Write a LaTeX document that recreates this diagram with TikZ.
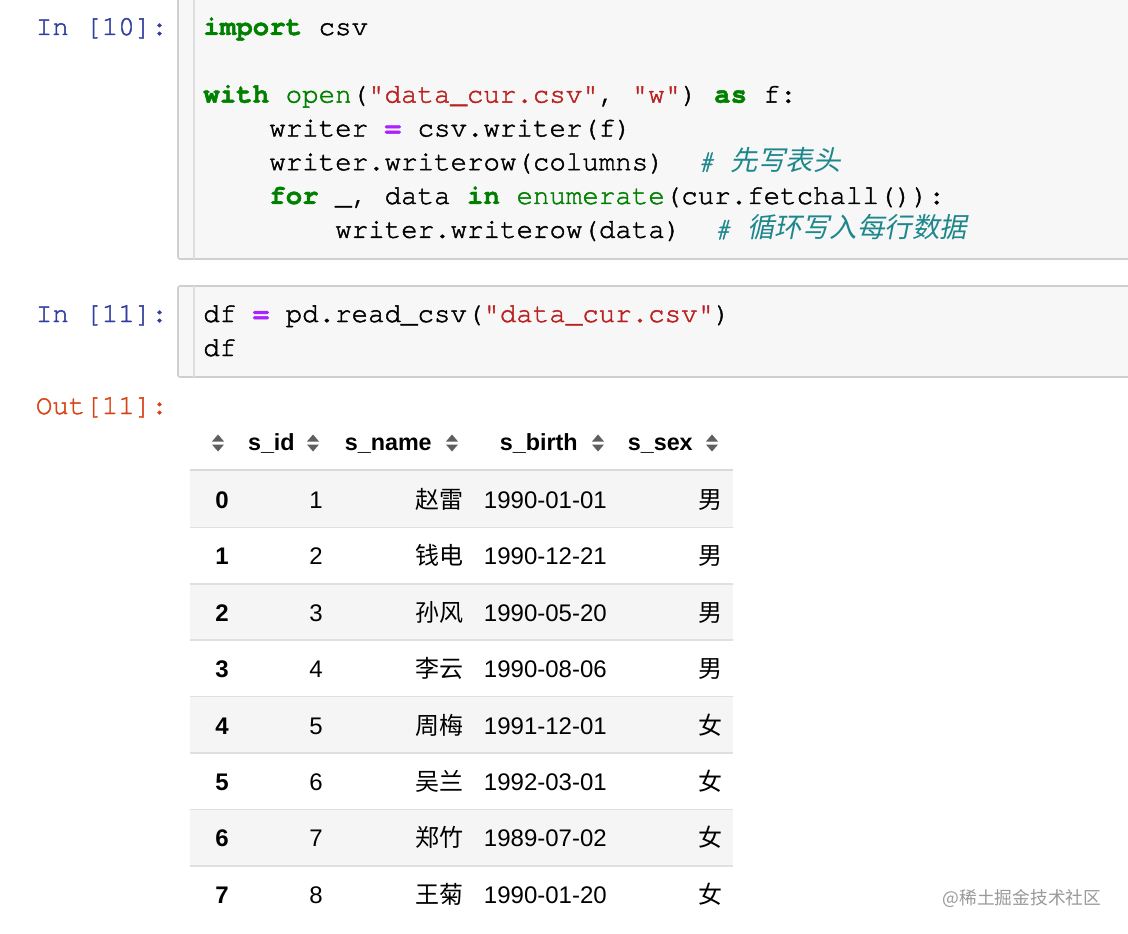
\documentclass[tikz,border=0pt]{standalone}
\usepackage{fontspec}
\usepackage{xcolor}
\setmainfont{Liberation Sans}
\newfontfamily\cjk{Noto Sans CJK SC}
\newfontfamily\cjkslant{Noto Sans CJK SC}[FakeSlant=0.2]
\newfontfamily\codefont{TeX Gyre Cursor}[FakeBold=1.6]
\definecolor{kwgreen}{RGB}{0,128,0}
\definecolor{strred}{RGB}{186,33,33}
\definecolor{oppurple}{RGB}{170,34,255}
\definecolor{cmteal}{RGB}{30,135,140}
\definecolor{inblue}{RGB}{48,63,159}
\definecolor{outred}{RGB}{216,67,21}
\definecolor{cellfill}{RGB}{247,247,247}
\definecolor{cellborder}{RGB}{207,207,207}
\definecolor{rowgray}{RGB}{245,245,245}
\definecolor{iconcol}{RGB}{95,95,95}
\newcommand\pykw[1]{\textcolor{kwgreen}{\bfseries #1}}
\newcommand\pybi[1]{\textcolor{kwgreen}{#1}}
\newcommand\pystr[1]{\textcolor{strred}{#1}}
\newcommand\pyop[1]{\textcolor{oppurple}{\bfseries #1}}
\newcommand\pycm[1]{\textcolor{cmteal}{\itshape #1}}
\tikzset{
    codeline/.style={anchor=base west, inner sep=0, font=\codefont\fontsize{20.6}{24}\selectfont},
    prompt/.style={anchor=base east, inner sep=0, font=\codefont\fontsize{20.6}{24}\selectfont},
    cellbox/.style={draw=cellborder, fill=cellfill, line width=1.2pt, rounded corners=1.5pt},
    gutter/.style={draw=black!13, line width=1pt},
    colhead/.style={anchor=base east, inner sep=0, font=\bfseries\fontsize{17.5}{21}\selectfont},
    cellidx/.style={anchor=base, inner sep=0, font=\bfseries\fontsize{18}{22}\selectfont},
    cellval/.style={anchor=base east, inner sep=0, font=\fontsize{18}{22}\selectfont},
    rowline/.style={draw=black!12, line width=1.3pt},
    sorticon/.pic={
        \fill[iconcol] (-6,-1.5) -- (6,-1.5) -- (0,-8.5) -- cycle;
        \fill[iconcol] (-6,1.5) -- (6,1.5) -- (0,8.5) -- cycle;
    }
}
\begin{document}
\begin{tikzpicture}[x=0.75pt, y=-0.75pt]
    \useasboundingbox (0,0) rectangle (1128,934);
    \clip (0,0) rectangle (1128,934);
    \fill[white] (0,0) rectangle (1128,934);

    % First input cell
    \draw[cellbox] (178,-10) rectangle (1140,259);
    \draw[gutter] (194,-10) -- (194,259);
    \node[prompt, text=inblue] (in10) at (168,35) {In [10]:};
    \node[codeline] (c1) at (203,35) {\pykw{import} csv};
    \node[codeline] (c3) at (203,102.6) {\pykw{with} \pybi{open}(\pystr{"data\_cur.csv"}, \pystr{"w"}) \pykw{as} f:};
    \node[codeline] (c4) at (269,136.4) {writer \pyop{=} csv.writer(f)};
    \node[codeline] (c5) at (269,170.2) {writer.writerow(columns)\ \ \pycm{\#\ {\cjkslant 先写表头}}};
    \node[codeline] (c6) at (269,204) {\pykw{for} \_, data \pykw{in} \pybi{enumerate}(cur.fetchall()):};
    \node[codeline] (c7) at (335,237.8) {writer.writerow(data)\ \ \pycm{\#\ {\cjkslant 循环写入每行数据}}};

    % Second input cell
    \draw[cellbox] (178,286) rectangle (1140,377);
    \draw[gutter] (194,286) -- (194,377);
    \node[prompt, text=inblue] (in11) at (168,322) {In [11]:};
    \node[codeline] (d1) at (203,322) {df \pyop{=} pd.read\_csv(\pystr{"data\_cur.csv"})};
    \node[codeline] (d2) at (203,356) {df};

    % Output
    \node[prompt, text=outred] (out11) at (168,414) {Out[11]:};

    % Table rows
    \foreach \i/\sid/\sname/\sbirth/\ssex/\bg in {%
        0/1/赵雷/1990-01-01/男/rowgray,
        1/2/钱电/1990-12-21/男/white,
        2/3/孙风/1990-05-20/男/rowgray,
        3/4/李云/1990-08-06/男/white,
        4/5/周梅/1991-12-01/女/rowgray,
        5/6/吴兰/1992-03-01/女/white,
        6/7/郑竹/1989-07-02/女/rowgray,
        7/8/王菊/1990-01-20/女/white%
    } {
        \pgfmathsetmacro\ytop{471+56.4*\i}
        \pgfmathsetmacro\ybase{\ytop+37.5}
        \fill[\bg] (190,\ytop) rectangle (733,\ytop+56.4);
        \ifnum\i>0 \draw[rowline] (190,\ytop) -- (733,\ytop); \fi
        \node[cellidx] (idx\i) at (222,\ybase) {\i};
        \node[cellval] (sid\i) at (323,\ybase) {\sid};
        \node[cellval] (name\i) at (464,\ybase) {\cjk\sname};
        \node[cellval] (birth\i) at (607,\ybase) {\sbirth};
        \node[cellval] (sex\i) at (723,\ybase) {\cjk\ssex};
    }

    % Header
    \draw[rowline, line width=1.8pt, draw=black!15] (190,470) -- (733,470);
    \node[colhead] (hsid) at (295,450.5) {s\_id};
    \node[colhead] (hname) at (432,450.5) {s\_name};
    \node[colhead] (hbirth) at (578,450.5) {s\_birth};
    \node[colhead] (hsex) at (693,450.5) {s\_sex};
    \foreach \x in {218,313,452,598,712}
        \pic at (\x,443) {sorticon};

    % Watermark
    \node[inner sep=0, text=black!40, font=\cjk\fontsize{13.3}{15}\selectfont] (mark) at (1022,898) {@稀土掘金技术社区};
\end{tikzpicture}
\end{document}
